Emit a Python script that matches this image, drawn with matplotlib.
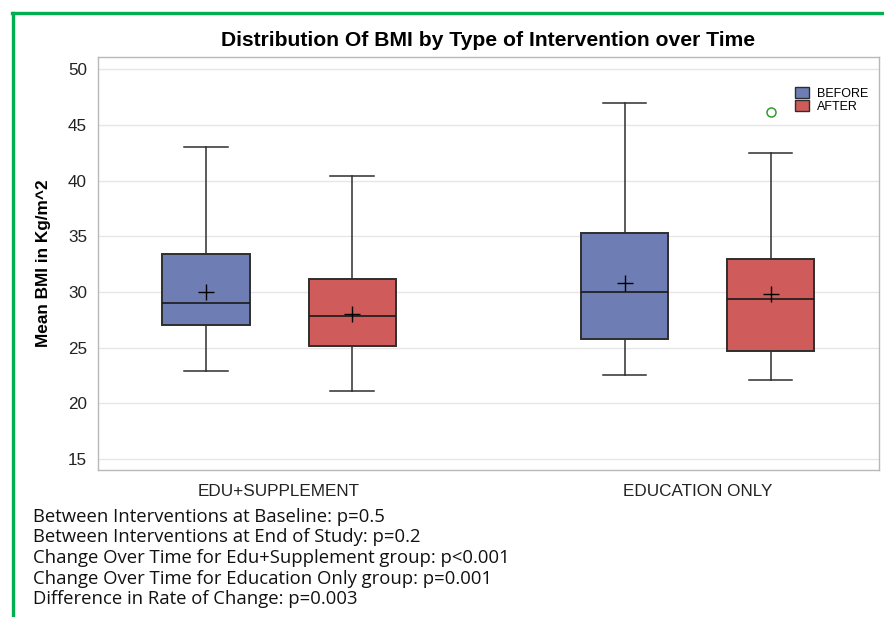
import matplotlib
matplotlib.use('Agg')
import matplotlib.pyplot as plt
from matplotlib.patches import Patch
from matplotlib.lines import Line2D

# ============================================================
# DATA
# ============================================================
groups = ['EDU+SUPPLEMENT', 'EDUCATION ONLY']
times = ['BEFORE', 'AFTER']

# order: EDU+SUPP BEFORE, EDU+SUPP AFTER, EDU ONLY BEFORE, EDU ONLY AFTER
whisker_low = [22.9, 21.1, 22.5, 22.1]
q1 = [27.0, 25.1, 25.8, 24.7]
median = [29.0, 27.8, 30.0, 29.4]
mean = [30.0, 28.0, 30.8, 29.8]
q3 = [33.4, 31.2, 35.3, 33.0]
whisker_high = [43.0, 40.4, 47.0, 42.5]
outliers = [[], [], [], [46.2]]

notes = [
    'Between Interventions at Baseline: p=0.5',
    'Between Interventions at End of Study: p=0.2',
    'Change Over Time for Edu+Supplement group: p<0.001',
    'Change Over Time for Education Only group: p=0.001',
    'Difference in Rate of Change: p=0.003',
]

# ============================================================
# STYLE
# ============================================================
col_before = '#6E7EB4'
col_after = '#D05B5B'
edge_col = '#2E2E2E'
green = '#00B050'

plt.rcParams['font.family'] = ['Liberation Sans', 'DejaVu Sans']

fig = plt.figure(figsize=(8.84, 6.17), dpi=100)
ax = fig.add_axes([0.1109, 0.2382, 0.8835, 0.6694])

offset = 0.1745
positions = []
for gi in range(len(groups)):
    positions.append(gi + 1 - offset)
    positions.append(gi + 1 + offset)

stats = []
for i in range(len(q1)):
    stats.append({
        'whislo': whisker_low[i],
        'q1': q1[i],
        'med': median[i],
        'mean': mean[i],
        'q3': q3[i],
        'whishi': whisker_high[i],
        'fliers': outliers[i],
    })

bp = ax.bxp(
    stats,
    positions=positions,
    widths=0.208,
    patch_artist=True,
    showmeans=True,
    showfliers=True,
    boxprops=dict(edgecolor=edge_col, linewidth=1.4),
    whiskerprops=dict(color=edge_col, linewidth=1.1),
    capprops=dict(color=edge_col, linewidth=1.1),
    medianprops=dict(color='#1A1A1A', linewidth=1.2),
    meanprops=dict(marker='+', markersize=11, markeredgecolor='black',
                   markeredgewidth=1.0),
    flierprops=dict(marker='o', markersize=6.5, markerfacecolor='none',
                    markeredgecolor='#2E9E2E', markeredgewidth=1.1),
    capwidths=0.104,
    zorder=3,
)

for i, box in enumerate(bp['boxes']):
    box.set_facecolor(col_before if i % 2 == 0 else col_after)

# ============================================================
# AXES
# ============================================================
ax.set_xlim(0.5675, 2.4337)
ax.set_ylim(14.0, 51.1)
ax.set_yticks(range(15, 51, 5))
ax.set_xticks([1, 2])
ax.set_xticklabels(groups)
ax.tick_params(axis='both', length=0, labelsize=12.3, colors='#222222')
ax.tick_params(axis='y', pad=8)
ax.tick_params(axis='x', pad=10)
ax.grid(axis='y', color='#E6E6E6', linewidth=1.0, zorder=0)
ax.set_axisbelow(True)
for s in ax.spines.values():
    s.set_color('#B8B8B8')
    s.set_linewidth(1.0)

ax.set_ylabel('Mean BMI in Kg/m^2', fontsize=12.4, fontweight='bold',
              labelpad=12)
ax.set_title('Distribution Of BMI by Type of Intervention over Time',
             fontsize=15.2, fontweight='bold', pad=8)

handles = [Patch(facecolor=col_before, edgecolor=edge_col, linewidth=1.0),
           Patch(facecolor=col_after, edgecolor=edge_col, linewidth=1.0)]
ax.legend(handles, times, loc='upper right', bbox_to_anchor=(0.993, 0.94),
          frameon=False, fontsize=9, handlelength=1.1, handleheight=1.0,
          handletextpad=0.7, labelspacing=0.05, borderaxespad=0)

# ============================================================
# NOTES BELOW THE PLOT
# ============================================================
for k, line in enumerate(notes):
    fig.text(33 / 884, 1 - (517 + 20.5 * k) / 617, line, fontsize=13.3,
             family=['Open Sans', 'DejaVu Sans'],
             va='center', ha='left', color='#111111')

# green frame (left and top)
fig.add_artist(Line2D([13 / 884, 13 / 884], [0, 1 - 13 / 617],
                      transform=fig.transFigure, color=green, linewidth=2.4))
fig.add_artist(Line2D([12 / 884, 1], [1 - 13 / 617, 1 - 13 / 617],
                      transform=fig.transFigure, color=green, linewidth=2.4))

fig.savefig('out.png', dpi=100)
